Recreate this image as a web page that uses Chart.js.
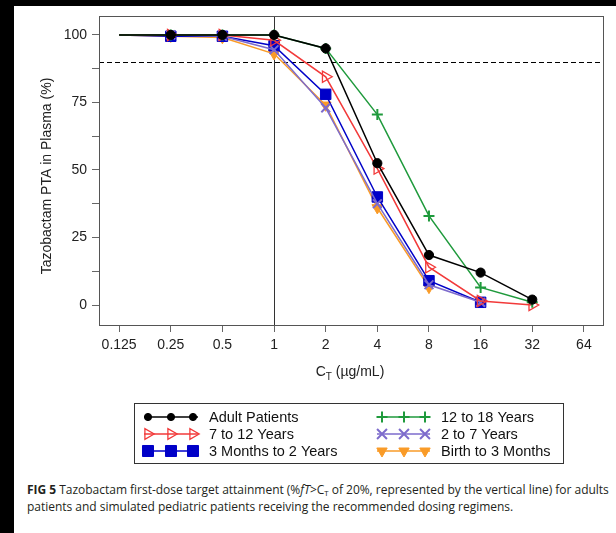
<!DOCTYPE html>
<html>
<head>
<meta charset="utf-8">
<script src="https://cdn.jsdelivr.net/npm/chart.js@4/dist/chart.umd.min.js"></script>
<style>
  html, body { margin: 0; padding: 0; background: #000; width: 616px; height: 533px; overflow: hidden; }
  #panel { position: absolute; left: 14px; top: 6px; width: 602px; height: 527px; background: #fff; overflow: hidden; }
  #chart { position: absolute; left: 0; top: 0; }
  #caption { position: absolute; left: 27px; top: 481px; white-space: nowrap; font-family: "Open Sans", sans-serif;
             font-size: 12px; line-height: 17px; color: #231f20; letter-spacing: -0.02px; }
  #caption b { font-weight: 700; }
  #caption sub { font-size: 0.65em; vertical-align: -0.25em; line-height: 0; }
</style>
</head>
<body>
<div id="panel"></div>
<canvas id="chart" width="616" height="475"></canvas>
<div id="caption"><b>FIG 5</b> Tazobactam first-dose target attainment (%<i>fT</i>&gt;C<sub>T</sub> of 20%, represented by the vertical line) for adults<br>patients and simulated pediatric patients receiving the recommended dosing regimens.</div>
<script>
// Target concentrations C_T (µg/mL) and probability of target attainment (%) per group
const concentrations = [0.125, 0.25, 0.5, 1, 2, 4, 8, 16, 32];
const adultPatients    = [100, 100, 100, 100, 95, 52.5, 18.5, 12, 2];
const years12to18      = [100, 100, 100, 100, 95, 70.5, 33, 6.5, 1];
const years7to12       = [100, 100, 100, 98, 84.5, 50.5, 14, 1.5, 0];
const years2to7        = [100, 100, 99.5, 94.5, 73, 37.5, 7.5, 1, null];
const months3to2years  = [100, 99.5, 99.5, 96, 78, 40, 9, 1, null];
const birthTo3Months   = [100, 99.5, 99, 93, 74, 36, 6.5, null, null];

const xTickValues = [0.125, 0.25, 0.5, 1, 2, 4, 8, 16, 32, 64];
const xTickLabels = ['0.125', '0.25', '0.5', '1', '2', '4', '8', '16', '32', '64'];
const yTickValues = [0, 12.5, 25, 37.5, 50, 62.5, 75, 87.5, 100];
const yTickLabels = ['0', '', '25', '', '50', '', '75', '', '100'];

const targetPTA = 90;       // dashed horizontal reference
const breakpointCT = 1;     // solid vertical reference

const FONT = '"Liberation Sans", Arial, sans-serif';

function seriesPoints(values) {
  return concentrations.map((c, i) => ({ x: Math.log2(c), y: values[i] }));
}
// no marker on the first concentration
function radii(r) { return concentrations.map((c, i) => i === 0 ? 0 : r); }

const series = [
  { label: 'Adult Patients', data: adultPatients, color: '#000000', style: 'circle', r: 4.6, rot: 0, fill: true, legR: 3.6 },
  { label: '12 to 18 Years', data: years12to18, color: '#1f9a3c', style: 'cross', r: 5.5, rot: 0, fill: false, bw: 2, legR: 5.5 },
  { label: '7 to 12 Years', data: years7to12, color: '#f23a3a', style: 'triangle', r: 6.5, rot: 90, fill: false, bw: 1.3, legR: 6.2 },
  { label: '2 to 7 Years', data: years2to7, color: '#7d6bcc', style: 'crossRot', r: 6.2, rot: 0, fill: false, bw: 2, legR: 7 },
  { label: '3 Months to 2 Years', data: months3to2years, color: '#0000c8', style: 'rect', r: 7.4, rot: 0, fill: true, legR: 7.8 },
  { label: 'Birth to 3 Months', data: birthTo3Months, color: '#f99b28', style: 'triangle', r: 6.2, rot: 180, fill: true, legR: 6 }
];

const datasets = series.map(s => ({
  label: s.label,
  data: seriesPoints(s.data),
  borderColor: s.color,
  borderWidth: 1.5,
  pointStyle: s.style,
  pointRotation: s.rot,
  pointRadius: radii(s.r),
  pointBackgroundColor: s.fill ? s.color : 'rgba(0,0,0,0)',
  pointBorderColor: s.color,
  pointBorderWidth: s.bw || 1,
  spanGaps: false,
  tension: 0
}));

const decorations = {
  id: 'decorations',
  beforeDatasetsDraw(chart) {
    const { ctx, chartArea: a, scales: { x, y } } = chart;
    ctx.save();
    // vertical line at the breakpoint
    const vx = Math.round(x.getPixelForValue(Math.log2(breakpointCT))) + 0.5;
    ctx.strokeStyle = '#333';
    ctx.lineWidth = 1;
    ctx.beginPath(); ctx.moveTo(vx, a.top); ctx.lineTo(vx, a.bottom); ctx.stroke();
    // dashed horizontal line at the target attainment
    const hy = Math.round(y.getPixelForValue(targetPTA)) + 0.5;
    ctx.strokeStyle = '#000';
    ctx.setLineDash([5, 3]);
    ctx.beginPath(); ctx.moveTo(a.left, hy); ctx.lineTo(a.right, hy); ctx.stroke();
    ctx.restore();
  },
  afterDraw(chart) {
    const { ctx, chartArea: a } = chart;
    ctx.save();
    // plot frame
    ctx.strokeStyle = '#555';
    ctx.lineWidth = 1;
    ctx.strokeRect(Math.round(a.left) + 0.5, Math.round(a.top) + 0.5, Math.round(a.right - a.left), Math.round(a.bottom - a.top));

    // y axis title
    ctx.fillStyle = '#222';
    ctx.font = '14px ' + FONT;
    ctx.textAlign = 'center';
    ctx.textBaseline = 'middle';
    ctx.save();
    ctx.translate(47, 176);
    ctx.rotate(-Math.PI / 2);
    ctx.fillText('Tazobactam PTA in Plasma (%)', 0, 0);
    ctx.restore();

    // x axis title with subscript
    const main1 = 'C', sub = 'T', main2 = ' (µg/mL)';
    ctx.font = '14px ' + FONT;
    const w1 = ctx.measureText(main1).width, w3 = ctx.measureText(main2).width;
    ctx.font = '10px ' + FONT;
    const w2 = ctx.measureText(sub).width;
    let tx = 350 - (w1 + w2 + w3) / 2;
    ctx.textAlign = 'left';
    ctx.textBaseline = 'alphabetic';
    ctx.font = '14px ' + FONT;
    ctx.fillText(main1, tx, 376);
    ctx.font = '10px ' + FONT;
    ctx.fillText(sub, tx + w1, 380);
    ctx.font = '14px ' + FONT;
    ctx.fillText(main2, tx + w1 + w2, 376);

    // legend
    const box = { x: 134, y: 403, w: 429, h: 60 };
    ctx.strokeStyle = '#333';
    ctx.lineWidth = 1;
    ctx.strokeRect(box.x + 0.5, box.y + 0.5, box.w, box.h);
    const rows = [417, 434, 451];
    const cols = [
      { x0: 144, x1: 198, marks: [148, 171, 193], tx: 209 },
      { x0: 377, x1: 430, marks: [382, 404, 425], tx: 441 }
    ];
    const layout = [[0, 0], [1, 0], [0, 1], [1, 1], [0, 2], [1, 2]];
    series.forEach((s, i) => {
      const col = cols[layout[i][0]], ry = rows[layout[i][1]];
      ctx.strokeStyle = s.color;
      ctx.lineWidth = 1.5;
      ctx.beginPath(); ctx.moveTo(col.x0, ry); ctx.lineTo(col.x1, ry); ctx.stroke();
      ctx.fillStyle = s.fill ? s.color : 'rgba(0,0,0,0)';
      ctx.lineWidth = s.bw || 1;
      col.marks.forEach(mx => {
        Chart.helpers.drawPoint(ctx, { pointStyle: s.style, radius: s.legR, rotation: s.rot, borderWidth: s.bw || 1 }, mx, ry);
      });
      ctx.fillStyle = '#111';
      ctx.font = '14.5px ' + FONT;
      ctx.textAlign = 'left';
      ctx.textBaseline = 'middle';
      ctx.fillText(s.label, col.tx, ry + 1);
    });
    ctx.restore();
  }
};

new Chart(document.getElementById('chart'), {
  type: 'line',
  data: { datasets },
  options: {
    responsive: false,
    animation: false,
    devicePixelRatio: 1,
    layout: { padding: { top: 16, right: 13, left: 0, bottom: 0 } },
    plugins: { legend: { display: false }, tooltip: { enabled: false } },
    scales: {
      x: {
        type: 'linear',
        min: -3.39,
        max: 6.37,
        afterFit: s => { s.height = 150; },
        afterBuildTicks: s => { s.ticks = xTickValues.map(v => ({ value: Math.log2(v) })); },
        ticks: {
          callback: (v, i) => xTickLabels[i],
          font: { size: 14, family: FONT },
          color: '#222',
          padding: 5,
          maxRotation: 0,
          autoSkip: false
        },
        grid: { drawOnChartArea: false, drawTicks: true, tickLength: 7, color: '#666', lineWidth: 1 },
        border: { display: false }
      },
      y: {
        type: 'linear',
        min: -7.4,
        max: 107,
        afterFit: s => { s.width = 99; },
        afterBuildTicks: s => { s.ticks = yTickValues.map(v => ({ value: v })); },
        ticks: {
          callback: (v, i) => yTickLabels[i],
          font: { size: 14, family: FONT },
          color: '#222',
          padding: 5,
          autoSkip: false
        },
        grid: { drawOnChartArea: false, drawTicks: true, tickLength: 7, color: '#666', lineWidth: 1 },
        border: { display: false }
      }
    }
  },
  plugins: [decorations]
});
</script>
</body>
</html>
